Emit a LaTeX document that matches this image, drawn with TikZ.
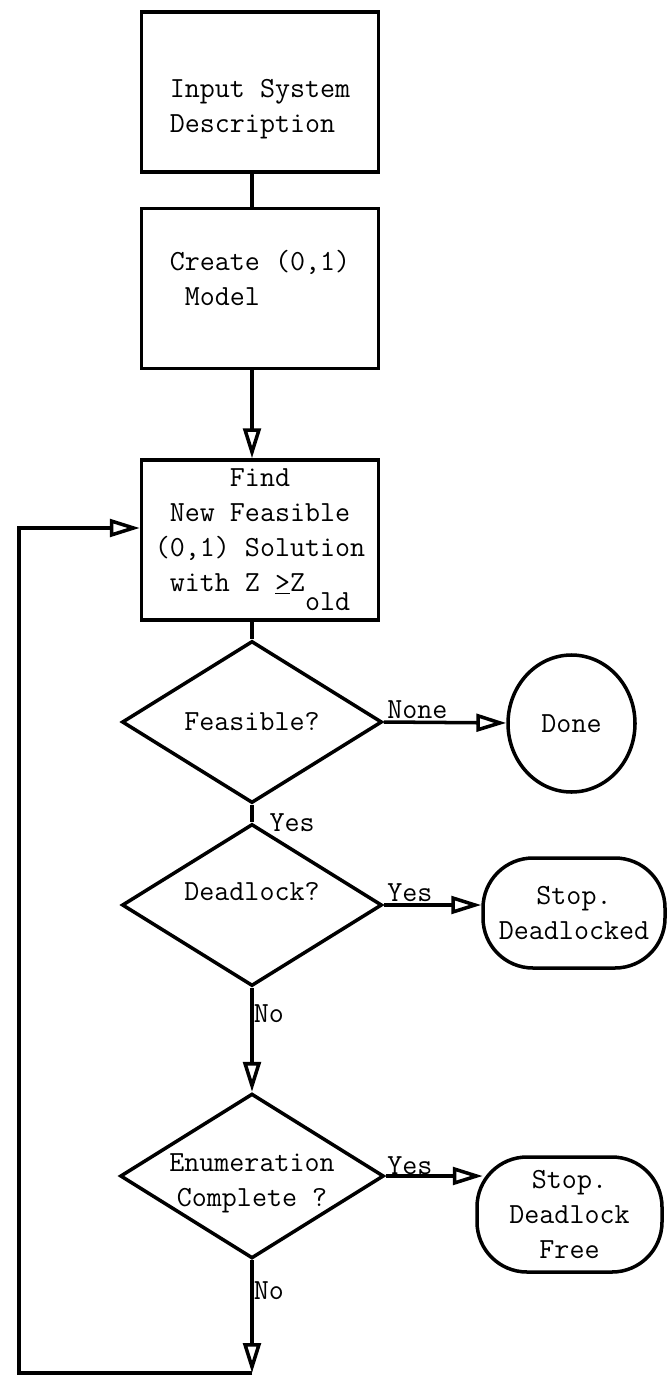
\documentclass[tikz,border=0pt]{standalone}
\usepackage{tikz}
\usetikzlibrary{arrows.meta,shapes.geometric}

\begin{document}
\begin{tikzpicture}[
    font=\fontsize{16.6pt}{19.8pt}\selectfont\ttfamily,
    line width=2pt,
    box/.style={draw, inner sep=0pt, minimum width=47.4mm, minimum height=32mm},
    decision/.style={draw, diamond, aspect=1.6, inner sep=0pt,
                     minimum width=52mm, minimum height=32.4mm},
    stopbox/.style={draw, rounded corners=10mm, align=center, inner sep=0pt},
    flow/.style={-{Triangle[open, length=17pt, width=10pt]}},
    lbl/.style={inner sep=1pt},
  ]
  \useasboundingbox (0,0) rectangle (13.34,-27.52);
  \node[box, align=left, text height=50pt] (input) at (5.20,-1.84)
    {Input System\\Description};
  \node[box, align=left, text depth=12.5pt] (create) at (5.20,-5.77)
    {Create (0,1)\\\ Model};
  \node[box, align=center] (find) at (5.20,-10.80)
    {Find\\New Feasible\\(0,1) Solution\\with Z \underline{>}Z\raisebox{-11pt}{old}};
  \node[decision] (feas) at (5.04,-14.44) {Feasible?};
  \node[decision, text depth=15pt] (dead) at (5.04,-18.10) {Deadlock?};
  \node[decision, align=center, text height=35pt, text depth=-5pt] (enum)
    at (5.04,-23.52) {Enumeration\\Complete ?};
  \node[draw, ellipse, minimum width=25.4mm, minimum height=27.4mm] (done)
    at (11.43,-14.47) {Done};
  \node[stopbox, minimum width=36.4mm, minimum height=22mm] (stopdl)
    at (11.48,-18.26) {Stop.\\Deadlocked};
  \node[stopbox, minimum width=37mm, minimum height=23mm] (stopfree)
    at (11.39,-24.29) {Stop.\\Deadlock\\Free};
  \coordinate (bottom) at (5.04,-27.46);
  \coordinate (corner) at (0.38,-27.46);

  % main column
  \draw (input.south -| feas) -- (create.north -| feas);
  \draw[flow] (create.south -| feas) -- (find.north -| feas);
  \draw (find.south -| feas) -- (feas.north);
  \draw (feas.south) -- node[lbl, right=8pt, pos=1] {Yes} (dead.north);
  \draw[flow] (dead.south) -- node[lbl, anchor=west, inner sep=0pt, pos=0.25] {No} (enum.north);
  \draw[flow] (enum.south) -- node[lbl, anchor=west, inner sep=0pt, pos=0.27] {No} (bottom);
  % exits to the right
  \draw[flow] (feas.east) -- node[lbl, above right, pos=0] {None} (done);
  \draw[flow] (dead.east) -- node[lbl, above right, pos=0] {Yes}
    (dead.east -| stopdl.west);
  \draw[flow] (enum.east) -- node[lbl, above right, pos=0, inner sep=0pt] {Yes}
    ([xshift=1.5mm]enum.east -| stopfree.west);
  % back to the search
  \draw[flow] (bottom) -- (corner) |- ([yshift=2.4mm]find.west);
\end{tikzpicture}
\end{document}
